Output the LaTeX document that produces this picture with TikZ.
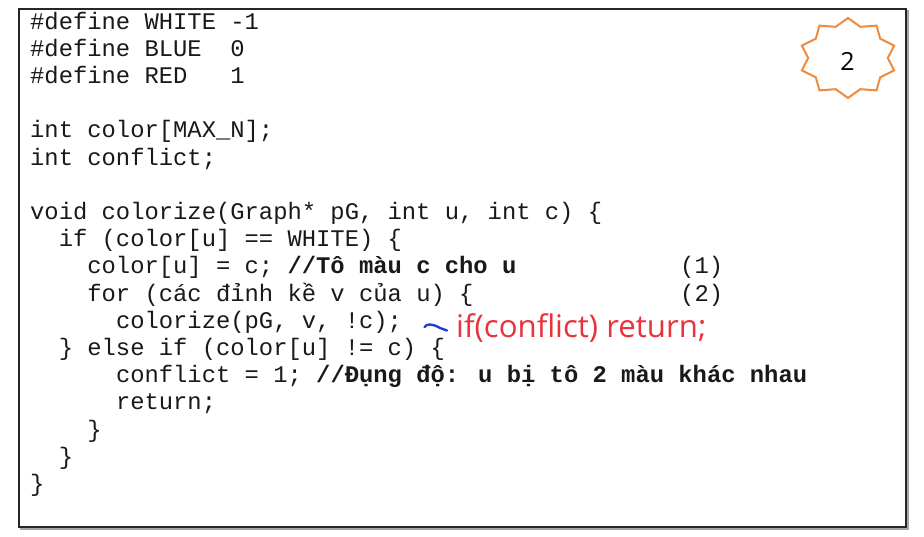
\documentclass[tikz,border=0pt]{standalone}
\usepackage{fontspec}
\newfontfamily\codefont[Ligatures=NoCommon]{Liberation Mono}
\newfontfamily\notefont{Open Sans}
\definecolor{starorange}{HTML}{F08A3C}
\definecolor{notered}{HTML}{E8323C}
\definecolor{tildeblue}{HTML}{1E3CC8}
\begin{document}
\begin{tikzpicture}[x=1pt,y=-1pt,
  code/.style={anchor=base west,inner sep=0pt,font=\codefont\fontsize{23.83}{27}\selectfont,text=black!90},
  note/.style={anchor=base west,inner sep=0pt,font=\notefont\fontsize{31.2}{34}\selectfont,text=notered},
  badge/.style={anchor=base,inner sep=0pt,font=\notefont\fontsize{25}{28}\selectfont,text=black}]
\useasboundingbox (0,0) rectangle (924,536);
% frame with shadow
\draw[gray!70,line width=1.2pt] (21,11) rectangle (908,529);
\draw[fill=white,draw=black!85,line width=1.1pt] (19,9) rectangle (906,527);
% code lines
\node[code] (l0) at (30,29) {\#define WHITE -1};
\node[code] (l1) at (30,56.2) {\#define BLUE\ \ 0};
\node[code] (l2) at (30,83.4) {\#define RED\ \ \ 1};
\node[code] (l4) at (30,137.8) {int color[MAX\_N];};
\node[code] (l5) at (30,165) {int conflict;};
\node[code] (l7) at (30,219.4) {void colorize(Graph* pG, int u, int c) \{};
\node[code] (l8) at (58.6,246.6) {if (color[u] == WHITE) \{};
\node[code] (l9) at (87.2,273.8) {color[u] = c; {\bfseries //Tô màu c cho u}};
\node[code] (n1) at (680,273.8) {(1)};
\node[code] (l10) at (87.2,301) {for (các đỉnh kề v của u) \{};
\node[code] (n2) at (680,301) {(2)};
\node[code] (l11) at (115.8,328.2) {colorize(pG, v, !c);};
\node[code] (l12) at (58.6,355.4) {\} else if (color[u] != c) \{};
\node[code] (l13) at (115.8,382.6) {conflict = 1; {\bfseries //Đụng độ: u bị tô 2 màu khác nhau}};
\node[code] (l14) at (115.8,409.8) {return;};
\node[code] (l15) at (87.2,437) {\}};
\node[code] (l16) at (58.6,464.2) {\}};
\node[code] (l17) at (30,491.4) {\}};
% handwritten note
\coordinate (t0) at (424.5,327);
\coordinate (t1) at (447,330.5);
\draw[tildeblue,line width=2.3pt,line cap=round]
  (t0) .. controls (427,323) and (433,324) .. (440,328) .. controls (443,330) .. (t1);
\node[note] (note) at (456,337.5) {if(conflict) return;};
% star badge
\begin{scope}[shift={(848,58)}]
\draw[starorange,line width=2pt,line join=miter]
  (90:48.5pt and 40pt) -- (72:39.8pt and 32.8pt) --
  (54:48.5pt and 40pt) -- (36:39.8pt and 32.8pt) --
  (18:48.5pt and 40pt) -- (0:39.8pt and 32.8pt) --
  (-18:48.5pt and 40pt) -- (-36:39.8pt and 32.8pt) --
  (-54:48.5pt and 40pt) -- (-72:39.8pt and 32.8pt) --
  (-90:48.5pt and 40pt) -- (-108:39.8pt and 32.8pt) --
  (-126:48.5pt and 40pt) -- (-144:39.8pt and 32.8pt) --
  (-162:48.5pt and 40pt) -- (180:39.8pt and 32.8pt) --
  (162:48.5pt and 40pt) -- (144:39.8pt and 32.8pt) --
  (126:48.5pt and 40pt) -- (108:39.8pt and 32.8pt) -- cycle;
\end{scope}
\node[badge] (badge) at (847.5,70.5) {2};
\end{tikzpicture}
\end{document}
